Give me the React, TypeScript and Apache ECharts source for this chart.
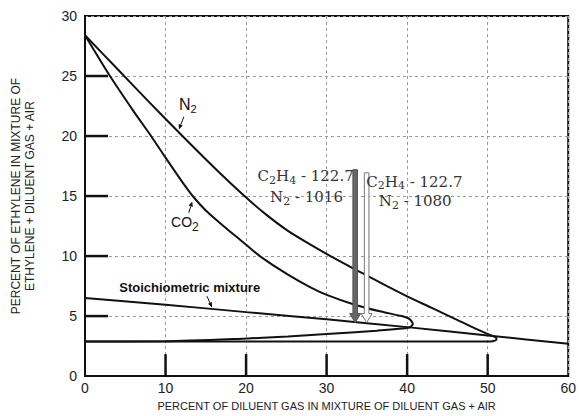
import React, { useEffect, useRef } from "react";
import * as echarts from "echarts";

// Axis ranges / ticks
const xMin = 0, xMax = 60, xStep = 10;
const yMin = 0, yMax = 30, yStep = 5;
const xTickValues = [10, 20, 30, 40, 50];
const yTickValues = [5, 10, 15, 20, 25];

// Flammability envelope for N2 dilution (upper limit branch -> nose -> lower limit branch)
const n2Envelope: [number, number][] = [
  [0, 28.4], [4, 25.6], [8, 22.8], [12.1, 20], [16, 17.4], [19.8, 15], [22.5, 13.45],
  [25.2, 12.1], [28, 10.95], [31, 9.8], [33.5, 8.9], [35.5, 8.2], [37.5, 7.5], [40, 6.65],
  [43, 5.7], [46, 4.75], [48.5, 3.95], [50.2, 3.45], [50.9, 3.27], [51.1, 3.1],
  [50.9, 2.95], [50.3, 2.88], [30, 2.88], [0, 2.88],
];

// Flammability envelope for CO2 dilution
const co2Envelope: [number, number][] = [
  [0, 28.4], [3.1, 25], [6, 22.1], [8.2, 20], [10, 18.2], [12, 16.25], [13.5, 14.9],
  [15, 13.8], [16.5, 12.9], [18, 12.05], [20, 10.95], [21.7, 10], [25.2, 8.45], [28, 7.4],
  [30.1, 6.75], [33.5, 5.95], [36.6, 5.4], [39.3, 5.0], [40.3, 4.75], [40.7, 4.35],
  [40.3, 4.05], [36.2, 3.78], [30, 3.5], [25.2, 3.3], [19, 3.1], [10, 2.9], [0, 2.88],
];

// Stoichiometric mixture line
const stoichiometric: [number, number][] = [
  [0, 6.5], [10, 5.95], [20, 5.33], [30, 4.73], [40, 4.08], [50, 3.38], [60, 2.7],
];

// Vertical arrows: [x, yTop, yTip]
const arrowDark: [number, number, number] = [33.55, 17.2, 4.46];
const arrowLight: [number, number, number] = [34.97, 16.93, 4.46];

// Pointer arrows: [x1, y1, x2 (tip), y2 (tip)]
const pointers: [number, number, number, number][] = [
  [12.27, 21.6, 11.66, 20.55],
  [12.88, 13.6, 13.31, 14.55],
  [15.15, 6.66, 15.77, 5.71],
];

// Annotation texts
const annotationTexts = [
  "{m|N}{s|2}",
  "{m|CO}{s|2}",
  "{b|Stoichiometric mixture}",
  "{m|C}{s|2}{m|H}{s|4}{m| - 122.7}",
  "{m|N}{s|2}{m| - 1016}",
  "{m|C}{s|2}{m|H}{s|4}{m| - 122.7}",
  "{m|N}{s|2}{m| - 1080}",
];
const annotationAt: [number, number][] = [
  [12.76, 22.6], [12.4, 12.8], [13.0, 7.4], [27.4, 16.64], [27.5, 14.9], [40.9, 16.2], [41.0, 14.55],
];
const annotationKind = ["sans", "sansSmall", "bold", "serif", "serif", "serif", "serif"];

const richByKind: Record<string, any> = {
  sans: {
    m: { fontFamily: "Liberation Sans", fontSize: 16, fill: "#111" },
    s: { fontFamily: "Liberation Sans", fontSize: 11, fill: "#111", padding: [9, 0, 0, 0] },
  },
  sansSmall: {
    m: { fontFamily: "Liberation Sans", fontSize: 14, fill: "#111" },
    s: { fontFamily: "Liberation Sans", fontSize: 12, fill: "#111", padding: [9, 0, 0, 0] },
  },
  bold: {
    b: { fontFamily: "Liberation Sans", fontSize: 13, fontWeight: "bold", fill: "#111" },
  },
  serif: {
    m: { fontFamily: "DejaVu Serif", fontSize: 15, fill: "#333" },
    s: { fontFamily: "DejaVu Serif", fontSize: 11, fill: "#333", padding: [8, 0, 0, 0] },
  },
};

export default function App() {
  const ref = useRef<HTMLDivElement>(null);
  useEffect(() => {
    if (!ref.current) return;
    const chart = echarts.init(ref.current, undefined, { renderer: "svg" });

    const curveStyle = { color: "#111", width: 2 };

    const arrowItem = (a: [number, number, number], fill: string, stroke: string, api: any) => {
      const top = api.coord([a[0], a[1]]);
      const tip = api.coord([a[0], a[2]]);
      const x = tip[0];
      const w = 2.3, hw = 5.5, hl = 9;
      return {
        type: "polygon",
        shape: {
          points: [
            [x - w, top[1]], [x + w, top[1]], [x + w, tip[1] - hl], [x + hw, tip[1] - hl],
            [x, tip[1]], [x - hw, tip[1] - hl], [x - w, tip[1] - hl],
          ],
        },
        style: { fill, stroke, lineWidth: 1 },
      };
    };

    const option: any = {
      animation: false,
      backgroundColor: "#fff",
      grid: {
        left: 85, right: 5, top: 16, bottom: 35,
        show: true, borderColor: "#111", borderWidth: 2, backgroundColor: "transparent",
      },
      xAxis: {
        type: "value", min: xMin, max: xMax, interval: xStep,
        name: "PERCENT OF DILUENT GAS IN MIXTURE OF DILUENT GAS + AIR",
        nameLocation: "middle", nameGap: 21,
        nameTextStyle: { fontFamily: "Liberation Sans", fontSize: 11, color: "#222" },
        axisLine: { show: true, lineStyle: { color: "#111", width: 2 } },
        axisTick: { show: false },
        axisLabel: { color: "#222", fontSize: 14, fontFamily: "Liberation Sans", margin: 5 },
        splitLine: { show: true, lineStyle: { color: "#9a9a9a", width: 1, type: [3, 3] } },
      },
      yAxis: {
        type: "value", min: yMin, max: yMax, interval: yStep,
        name: "PERCENT OF ETHYLENE IN MIXTURE OF\nETHYLENE + DILUENT GAS + AIR",
        nameLocation: "middle", nameGap: 48, nameRotate: 90,
        nameTextStyle: { fontFamily: "Liberation Sans", fontSize: 12, color: "#222", lineHeight: 14 },
        axisLine: { show: true, lineStyle: { color: "#111", width: 2 } },
        axisTick: { show: false },
        axisLabel: { color: "#222", fontSize: 14, fontFamily: "Liberation Sans", margin: 8 },
        splitLine: { show: true, lineStyle: { color: "#9a9a9a", width: 1, type: [3, 3] } },
      },
      series: [
        { type: "line", data: n2Envelope, showSymbol: false, smooth: 0.25, lineStyle: curveStyle, silent: true },
        { type: "line", data: co2Envelope, showSymbol: false, smooth: 0.25, lineStyle: curveStyle, silent: true },
        { type: "line", data: stoichiometric, showSymbol: false, smooth: 0.2, lineStyle: curveStyle, silent: true },
        {
          type: "custom", coordinateSystem: "cartesian2d", silent: true, clip: false, z: 5,
          data: [[arrowDark[0], arrowDark[1]], [arrowLight[0], arrowLight[1]]],
          renderItem: (params: any, api: any) =>
            params.dataIndex === 0
              ? arrowItem(arrowDark, "#666", "#555", api)
              : arrowItem(arrowLight, "#fff", "#777", api),
        },
        {
          type: "custom", coordinateSystem: "cartesian2d", silent: true, clip: false, z: 5,
          data: pointers.map((p) => [p[2], p[3]]),
          renderItem: (params: any, api: any) => {
            const p = pointers[params.dataIndex];
            const a = api.coord([p[0], p[1]]);
            const b = api.coord([p[2], p[3]]);
            const dx = b[0] - a[0], dy = b[1] - a[1];
            const len = Math.sqrt(dx * dx + dy * dy) || 1;
            const ux = dx / len, uy = dy / len;
            const hl = 5, hw = 2.2;
            const bx = b[0] - ux * hl, by = b[1] - uy * hl;
            return {
              type: "group",
              children: [
                { type: "line", shape: { x1: a[0], y1: a[1], x2: bx, y2: by }, style: { stroke: "#111", lineWidth: 1 } },
                {
                  type: "polygon",
                  shape: { points: [[b[0], b[1]], [bx - uy * hw, by + ux * hw], [bx + uy * hw, by - ux * hw]] },
                  style: { fill: "#111" },
                },
              ],
            };
          },
        },
        {
          type: "custom", coordinateSystem: "cartesian2d", silent: true, clip: false, z: 6,
          data: annotationAt,
          renderItem: (params: any, api: any) => {
            const i = params.dataIndex;
            const p = api.coord(annotationAt[i]);
            return {
              type: "text", x: p[0], y: p[1],
              style: {
                text: annotationTexts[i],
                rich: richByKind[annotationKind[i]],
                align: "center", verticalAlign: "middle",
              },
            };
          },
        },
      ],
    };
    chart.setOption(option);

    // inside tick marks, positioned through the chart's own axis scales
    const toPx = (v: [number, number]) => chart.convertToPixel({ xAxisIndex: 0, yAxisIndex: 0 }, v) as number[];
    const tickGraphics: any[] = [
      ...yTickValues.map((v) => {
        const p = toPx([xMin, v]);
        return { type: "rect", z: 50, silent: true, shape: { x: p[0], y: p[1] - 1.25, width: 23, height: 2.5 }, style: { fill: "#111" } };
      }),
      ...xTickValues.map((v) => {
        const p = toPx([v, yMin]);
        return { type: "rect", z: 50, silent: true, shape: { x: p[0] - 1.25, y: p[1] - 22, width: 2.5, height: 22 }, style: { fill: "#111" } };
      }),
    ];
    chart.setOption({ graphic: tickGraphics });

    return () => chart.dispose();
  }, []);
  return <div ref={ref} style={{ width: 579, height: 416, position: "absolute", left: 0, top: 0 }} />;
}
